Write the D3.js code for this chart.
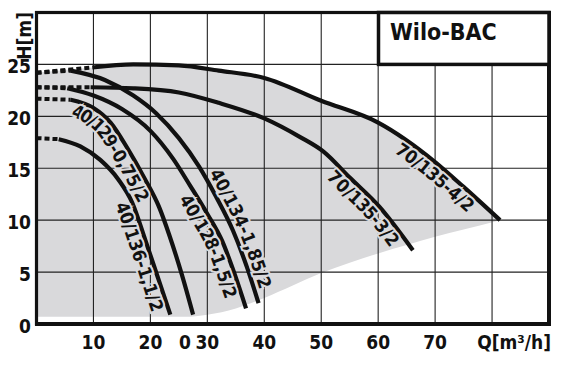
<!DOCTYPE html>
<html>
<head>
<meta charset="utf-8">
<script src="https://cdn.jsdelivr.net/npm/d3@7"></script>
<style>
body { margin: 0; background: #fff; }
text { font-family: "DejaVu Sans Condensed", "DejaVu Sans", sans-serif; font-stretch: condensed; font-weight: bold; fill: #111; }
</style>
</head>
<body>
<svg id="chart" width="578" height="374"></svg>
<script>
// pump curves of the Wilo-BAC range, Q [m3/h] -> H [m]
var curveNames = ["40/136-1,1/2", "40/129-0,75/2", "40/128-1,5/2", "40/134-1,85/2", "70/135-3/2", "70/135-4/2"];

var curve40_136 = [[0, 17.9], [3.9, 17.8], [7.7, 17.1], [11.2, 15.8], [14.4, 13.9], [16.8, 11.7], [19.1, 8.1], [21.3, 4.5], [23.5, 0.9]];
var curve40_129 = [[0, 21.7], [6, 21.6], [10, 20.8], [13, 19.4], [16, 16.9], [19, 14.0], [21.5, 11.3], [23.3, 8.6], [25.5, 4.8], [27.5, 0.9]];
var curve40_128 = [[0, 22.8], [5.4, 22.7], [10, 22.0], [15, 20.7], [20, 18.6], [24, 15.9], [27, 13.3], [30, 10.6], [32.6, 8.0], [34.8, 4.8], [36.8, 1.5]];
var curve40_134 = [[0, 24.2], [6, 24.4], [12, 23.5], [17, 22.0], [21, 20.3], [25, 17.9], [28.5, 15.2], [31.5, 12.3], [34.5, 9.0], [37, 5.4], [39, 2.0]];
var curve70_3 = [[0, 22.8], [9.5, 22.8], [17, 22.7], [25, 22.3], [32, 21.3], [40, 19.8], [46.3, 18.0], [50.4, 16.6], [55, 14.1], [60.2, 11.3], [66.1, 7.1]];
var curve70_4 = [[0, 24.2], [9.8, 24.7], [17, 25.0], [25, 24.9], [32, 24.4], [40, 23.7], [50, 21.5], [60, 19.4], [70, 15.6], [75, 13.2], [81.4, 10.0]];

// first part of every curve is only drawn dotted
var dottedUntil = [3.9, 6, 5.4, 6, 9.5, 9.8];

// lower edge of the grey working field
var fieldLow = [[0, 0.7], [26, 0.7], [30, 0.9], [35, 1.5], [40, 2.5], [45, 3.7], [50, 4.9], [55, 5.9], [60, 6.8], [65, 7.6], [70, 8.4], [75, 9.1], [81.4, 10.0]];

var xTicks = [10, 20, 30, 40, 50, 60, 70];
var yTicks = [0, 5, 10, 15, 20, 25];

var curves = [curve40_136, curve40_129, curve40_128, curve40_134, curve70_3, curve70_4];

var svg = d3.select("#chart");
var grey = "#d9d9db";

var x = d3.scaleLinear().domain([0, 90]).range([36.5, 549]);
var y = d3.scaleLinear().domain([0, 30]).range([324, 12.5]);

var line = d3.line()
    .x(function(d){ return x(d[0]); })
    .y(function(d){ return y(d[1]); })
    .curve(d3.curveMonotoneX);

// grey field: top follows the biggest pump, bottom the lower edge
var fieldTop = line(curve70_4);
var fieldBottom = line(fieldLow.slice().reverse());
svg.append("path")
    .attr("d", fieldTop + "L" + fieldBottom.slice(1) + "Z")
    .attr("fill", grey);

// grid
svg.append("g").selectAll("line")
    .data(d3.range(10, 90, 10))
    .enter().append("line")
    .attr("x1", function(d){ return x(d); }).attr("x2", function(d){ return x(d); })
    .attr("y1", y(0)).attr("y2", y(30))
    .attr("stroke", "#222").attr("stroke-width", 1.1);
svg.append("g").selectAll("line")
    .data(d3.range(5, 30, 5))
    .enter().append("line")
    .attr("x1", x(0)).attr("x2", x(90))
    .attr("y1", function(d){ return y(d); }).attr("y2", function(d){ return y(d); })
    .attr("stroke", "#222").attr("stroke-width", 1.1);

// curves: dotted start, then solid
var paths = [];
curves.forEach(function(c, i){
    var q0 = dottedUntil[i];
    var dotted = c.filter(function(d){ return d[0] <= q0; });
    var solid = c.filter(function(d){ return d[0] >= q0; });
    svg.append("path")
        .attr("d", line(dotted))
        .attr("fill", "none").attr("stroke", "#111")
        .attr("stroke-width", 4).attr("stroke-dasharray", "5,3");
    var p = svg.append("path")
        .attr("id", "curve" + i)
        .attr("d", line(c))
        .attr("fill", "none").attr("stroke", "none");
    svg.append("path")
        .attr("d", line(solid))
        .attr("fill", "none").attr("stroke", "#111")
        .attr("stroke-width", 4.2);
    paths.push(p.node());
});

// labels ride along their curves
var labelPlace = [
    {q: 16.5, dy: 17},
    {q: 7, dy: 17},
    {q: 27.5, dy: 17},
    {q: 29.5, dy: -5},
    {q: 53, dy: 17},
    {q: 64.5, dy: 17}
];

function offsetAt(path, q){
    var px = x(q), lo = 0, hi = path.getTotalLength();
    for (var k = 0; k < 30; k++){
        var mid = (lo + hi) / 2;
        if (path.getPointAtLength(mid).x < px) lo = mid; else hi = mid;
    }
    return lo;
}

curveNames.forEach(function(name, i){
    svg.append("text")
        .attr("dy", labelPlace[i].dy)
        .style("font-size", "18px")
        .attr("stroke", grey).attr("stroke-width", 4)
        .attr("paint-order", "stroke")
        .append("textPath")
        .attr("href", "#curve" + i)
        .attr("startOffset", offsetAt(paths[i], labelPlace[i].q))
        .text(name);
});

// frame
svg.append("rect")
    .attr("x", x(0)).attr("y", y(30))
    .attr("width", x(90) - x(0)).attr("height", y(0) - y(30))
    .attr("fill", "none").attr("stroke", "#111").attr("stroke-width", 3.2);
svg.append("line")
    .attr("x1", x(0) - 1.5).attr("x2", x(90) + 2)
    .attr("y1", y(0)).attr("y2", y(0))
    .attr("stroke", "#111").attr("stroke-width", 4);
svg.append("line")
    .attr("x1", x(90)).attr("x2", x(90))
    .attr("y1", y(30) - 1.5).attr("y2", y(0))
    .attr("stroke", "#111").attr("stroke-width", 4);

// legend box
svg.append("rect")
    .attr("x", 378.5).attr("y", y(30))
    .attr("width", x(90) - 378.5).attr("height", y(25) - y(30))
    .attr("fill", "#fff").attr("stroke", "#111").attr("stroke-width", 3.5);
svg.append("text")
    .attr("x", 390).attr("y", 40)
    .style("font-size", "23px")
    .text("Wilo-BAC");

// tick labels
svg.append("g").selectAll("text")
    .data(xTicks)
    .enter().append("text")
    .attr("x", function(d){ return x(d); })
    .attr("y", 349)
    .attr("text-anchor", "middle")
    .style("font-size", "19px")
    .text(function(d){ return d; });
svg.append("text")
    .attr("x", 185).attr("y", 349)
    .attr("text-anchor", "middle")
    .style("font-size", "19px")
    .text("0");
svg.append("g").selectAll("text")
    .data(yTicks)
    .enter().append("text")
    .attr("x", 31)
    .attr("y", function(d){ return y(d) + 9; })
    .attr("text-anchor", "end")
    .style("font-size", "19px")
    .text(function(d){ return d; });

// axis titles
svg.append("text")
    .attr("transform", "translate(31,12) rotate(-90)")
    .attr("text-anchor", "end")
    .style("font-size", "19px")
    .text("H[m]");
svg.append("text")
    .attr("x", 551).attr("y", 349)
    .attr("text-anchor", "end")
    .style("font-size", "19px")
    .text("Q[m³/h]");
</script>
</body>
</html>
